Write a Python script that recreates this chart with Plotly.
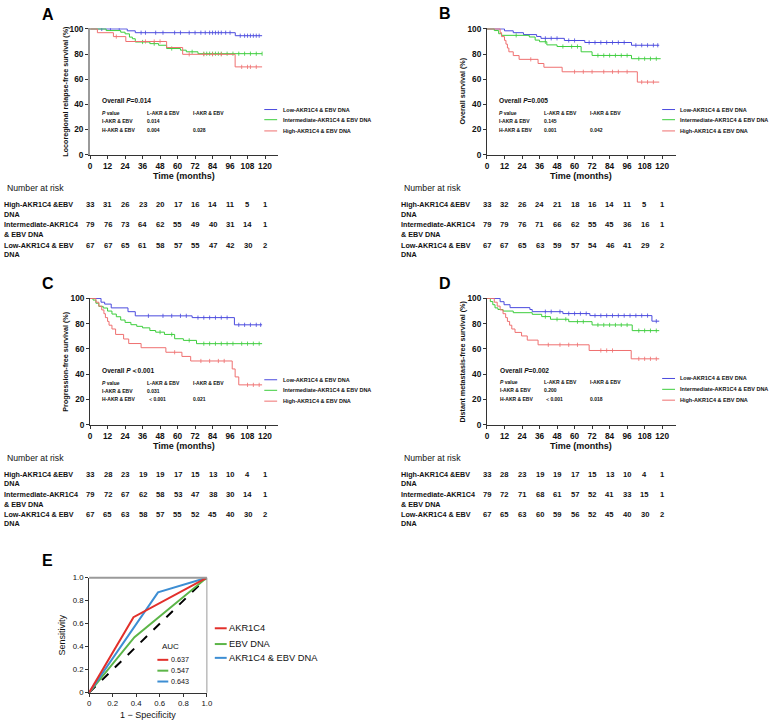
import plotly.graph_objects as go

# ---------------- data ----------------
TIME_TICKS = [0, 12, 24, 36, 48, 60, 72, 84, 96, 108, 120]
GROUP_LABELS = ["Low-AKR1C4 & EBV DNA", "Intermediate-AKR1C4 & EBV DNA", "High-AKR1C4 & EBV DNA"]
RISK_LABELS = [("High-AKR1C4 &EBV", "DNA"), ("Intermediate-AKR1C4", "& EBV DNA"), ("Low-AKR1C4 & EBV", "DNA")]

# Panel A - locoregional relapse-free survival
A_low_t = [0, 25.5, 31, 99.6, 118]
A_low_s = [100, 98.5, 97.0, 94.6, 94.6]
A_int_t = [0, 11, 21, 24, 27, 29, 31, 41, 47, 52.5, 62, 66, 74, 118]
A_int_s = [100, 98.7, 97.4, 96.1, 93.5, 92.2, 89.6, 88.3, 87.0, 84.4, 83.1, 81.8, 80.3, 80.3]
A_high_t = [0, 5, 16, 24.5, 52.5, 63.5, 99.5, 118]
A_high_s = [100, 97.0, 93.9, 90.0, 85.2, 79.8, 69.8, 69.8]
A_low_cens = [8, 14, 20, 35, 38, 45, 50, 58, 62, 68, 72, 76, 79, 82, 84, 86, 88, 90, 93, 96, 103, 106, 108, 110, 112, 114, 116]
A_int_cens = [36, 44, 56, 70, 78, 80, 82, 84, 86, 88, 90, 94, 98, 102, 106, 110, 114, 118]
A_high_cens = [18, 38, 44, 48, 68, 78, 84, 90, 104, 108, 110, 114]
A_risk_high = [33, 31, 26, 23, 20, 17, 16, 14, 11, 5, 1]
A_risk_int = [79, 76, 73, 64, 62, 55, 49, 40, 31, 14, 1]
A_risk_low = [67, 67, 65, 61, 58, 57, 55, 47, 42, 30, 2]
A_pvals = ["Overall <i>P</i>=0.014", "0.014", "0.004", "0.028"]

# Panel B - overall survival
B_low_t = [0, 12, 18, 25, 34, 37, 53, 67, 99, 118]
B_low_s = [100, 98.5, 97.0, 95.5, 94.0, 92.5, 90.8, 89.2, 87.0, 87.0]
B_int_t = [0, 5, 8, 10, 29, 33, 36, 41, 48, 64.5, 72, 99, 119]
B_int_s = [100, 98.7, 96.2, 94.9, 93.6, 91.1, 89.8, 87.3, 86.0, 81.8, 78.9, 76.3, 76.3]
B_high_t = [0, 9, 10, 12, 13, 14, 15, 18, 22, 35, 39, 51.5, 103, 118]
B_high_s = [100, 97.0, 93.9, 90.9, 87.9, 84.8, 81.8, 78.8, 75.8, 72.5, 69.5, 65.9, 57.7, 57.7]
B_low_cens = [40, 44, 48, 56, 60, 70, 74, 78, 82, 86, 90, 94, 102, 106, 110, 114, 117]
B_int_cens = [20, 40, 52, 58, 62, 76, 80, 84, 88, 92, 96, 104, 108, 112, 116]
B_high_cens = [30, 60, 66, 72, 80, 86, 90, 96, 106, 110, 114]
B_risk_high = [33, 32, 26, 24, 21, 18, 16, 14, 11, 5, 1]
B_risk_int = [79, 79, 76, 71, 66, 62, 55, 45, 36, 16, 1]
B_risk_low = [67, 67, 65, 63, 59, 57, 54, 46, 41, 29, 2]
B_pvals = ["Overall <i>P</i>=0.005", "0.145", "0.001", "0.042"]

# Panel C - progression-free survival
C_low_t = [0, 7.5, 10, 14.5, 26, 31, 70, 99, 118]
C_low_s = [100, 97.0, 95.5, 92.5, 89.5, 86.2, 84.8, 79.1, 79.1]
C_int_t = [0, 2, 4, 6, 9, 12, 15, 18, 21, 24, 28, 32, 36, 41, 45, 51, 58, 64, 73, 118]
C_int_s = [100, 98.7, 96.2, 93.7, 92.4, 90.0, 87.6, 85.5, 82.9, 81.0, 79.2, 77.9, 76.7, 74.6, 73.3, 71.5, 68.1, 66.8, 64.2, 64.2]
C_high_t = [0, 4, 6, 8, 9.5, 10.5, 12, 13, 15, 17.5, 23, 26.5, 35, 52, 63, 69, 97.5, 99.5, 102, 118]
C_high_s = [100, 97.0, 93.9, 90.9, 87.9, 84.8, 81.8, 78.8, 75.8, 71.5, 67.9, 64.3, 61.0, 57.4, 54.1, 50.5, 44.2, 37.9, 31.6, 31.6]
C_low_cens = [40, 50, 56, 62, 66, 74, 78, 82, 86, 90, 94, 102, 106, 110, 114, 117]
C_int_cens = [48, 56, 68, 78, 82, 86, 90, 94, 98, 104, 108, 112, 116]
C_high_cens = [58, 76, 82, 88, 92, 108, 112, 116]
C_risk_high = [33, 28, 23, 19, 19, 17, 15, 13, 10, 4, 1]
C_risk_int = [79, 72, 67, 62, 58, 53, 47, 38, 30, 14, 1]
C_risk_low = [67, 65, 63, 58, 57, 55, 52, 45, 40, 30, 2]
C_pvals = ["Overall <i>P</i>＜0.001", "0.031", " ＜0.001", "0.021"]

# Panel D - distant metastasis-free survival
D_low_t = [0, 9, 11.7, 15.8, 29.4, 31, 52, 70.5, 113, 118]
D_low_s = [100, 97.4, 95.0, 92.7, 91.2, 89.5, 88.0, 86.4, 82.0, 82.0]
D_int_t = [0, 2.3, 4, 5.5, 7.5, 11, 18, 31, 37.5, 43.5, 56, 72, 99.5, 118]
D_int_s = [100, 97.5, 95.0, 92.5, 91.2, 90.0, 88.7, 87.4, 85.6, 83.5, 81.6, 79.0, 74.5, 74.5]
D_high_t = [0, 5, 7, 9, 11, 12.8, 14, 15.5, 17, 19.2, 23.7, 27.6, 35, 70, 98.8, 118]
D_high_s = [100, 97.0, 93.9, 90.9, 87.9, 84.8, 81.8, 78.8, 75.8, 73.1, 70.3, 67.0, 63.3, 58.8, 52.2, 52.2]
D_low_cens = [40, 44, 50, 56, 60, 64, 68, 74, 78, 82, 86, 90, 94, 98, 102, 106, 110, 116]
D_int_cens = [40, 48, 54, 62, 66, 76, 80, 84, 88, 92, 96, 104, 108, 112, 116]
D_high_cens = [42, 50, 56, 62, 78, 82, 86, 104, 108, 112, 116]
D_risk_high = [33, 28, 23, 19, 19, 17, 15, 13, 10, 4, 1]
D_risk_int = [79, 72, 71, 68, 61, 57, 52, 41, 33, 15, 1]
D_risk_low = [67, 65, 63, 60, 59, 56, 52, 45, 40, 30, 2]
D_pvals = ["Overall <i>P</i>=0.002", "0.200", " ＜0.001", "0.018"]

# Panel E - ROC curves
ROC_NAMES = ["AKR1C4", "EBV DNA", "AKR1C4 & EBV DNA"]
ROC_AUC = ["0.637", "0.547", "0.643"]
E_akr_fpr = [0, 0.377, 1]
E_akr_tpr = [0, 0.656, 1]
E_ebv_fpr = [0, 0.385, 1]
E_ebv_tpr = [0, 0.482, 1]
E_comb_fpr = [0, 0.585, 1]
E_comb_tpr = [0, 0.872, 1]
E_ref = [0, 1]
ROC_TICKS = [0, 0.2, 0.4, 0.6, 0.8, 1.0]
ROC_TICKTEXT = ["0", "0.2", "0.4", "0.6", "0.8", "1.0"]

# ---------------- style / layout ----------------
W, H = 780, 724
FONT = "Liberation Sans, Arial, sans-serif"
KM_COLORS = ["#4a4ade", "#3ccd3c", "#ef7070"]   # low, intermediate, high
ROC_COLORS = ["#e2302b", "#5cb548", "#3d8ed3"]


def px(x):
    return x / W


def py(y):
    return 1 - y / H


def step_value(ts, ss, c):
    v = ss[0]
    for t, s in zip(ts, ss):
        if t <= c:
            v = s
        else:
            break
    return v


fig = go.Figure()
annotations = []
shapes = []


def text(x, y, s, size, bold=False, xanchor="left", color="#111", angle=0, xref="paper"):
    annotations.append(dict(
        x=x if xref != "paper" else px(x), y=py(y), xref=xref, yref="paper", text=s,
        showarrow=False, xanchor=xanchor, yanchor="middle", textangle=angle, borderpad=0,
        font=dict(family=FONT, size=size, color=color, weight="bold" if bold else "normal")))


def hline(x0, x1, y, color, width):
    shapes.append(dict(type="line", xref="paper", yref="paper", x0=px(x0), x1=px(x1),
                       y0=py(y), y1=py(y), line=dict(color=color, width=width)))


panels = [
    dict(letter="A", ax="", curves=[(A_low_t, A_low_s), (A_int_t, A_int_s), (A_high_t, A_high_s)],
         cens=[A_low_cens, A_int_cens, A_high_cens], risk=[A_risk_high, A_risk_int, A_risk_low],
         pv=A_pvals, ytitle="Locoregional relapse-free survival (%)",
         x0=89, x1=279, xmax=129.0, y0=151.7, y1=23.5, ymax=100.6, yline="#9a9a9a", ylw=2,
         letter_xy=(46, 9.5), ytitle_x=64, xtitle_y=173.5, nar_x=4, nar_y=186, lab_x=1,
         row_y=[202.7, 223, 244], pv_y=[97.3, 109.3, 117.7, 126.3], pv_x=[100, 145.7, 191.7],
         leg_x=(265, 278, 283), leg_y=[106, 116.3, 127.7]),
    dict(letter="B", ax="2", curves=[(B_low_t, B_low_s), (B_int_t, B_int_s), (B_high_t, B_high_s)],
         cens=[B_low_cens, B_int_cens, B_high_cens], risk=[B_risk_high, B_risk_int, B_risk_low],
         pv=B_pvals, ytitle="Overall survival (%)",
         x0=490, x1=681, xmax=129.5, y0=151.7, y1=23.5, ymax=100.6, yline="#333", ylw=1,
         letter_xy=(448, 9), ytitle_x=465, xtitle_y=173.5, nar_x=405, nar_y=186, lab_x=402,
         row_y=[202.7, 223, 244], pv_y=[97.3, 109.3, 117.3, 126.7], pv_x=[501, 546.7, 592.7],
         leg_x=(667, 680, 684), leg_y=[106, 116.3, 127.7]),
    dict(letter="C", ax="3", curves=[(C_low_t, C_low_s), (C_int_t, C_int_s), (C_high_t, C_high_s)],
         cens=[C_low_cens, C_int_cens, C_high_cens], risk=[C_risk_high, C_risk_int, C_risk_low],
         pv=C_pvals, ytitle="Progression-free survival (%)",
         x0=89, x1=279, xmax=129.0, y0=425.7, y1=297.0, ymax=100.4, yline="#333", ylw=1,
         letter_xy=(46, 282), ytitle_x=64, xtitle_y=447.3, nar_x=4, nar_y=459.3, lab_x=1,
         row_y=[476.3, 496.7, 516.7], pv_y=[370.7, 383.3, 391.7, 400], pv_x=[100, 145.7, 191.7],
         leg_x=(265, 278, 283), leg_y=[380, 390.7, 401.7]),
    dict(letter="D", ax="4", curves=[(D_low_t, D_low_s), (D_int_t, D_int_s), (D_high_t, D_high_s)],
         cens=[D_low_cens, D_int_cens, D_high_cens], risk=[D_risk_high, D_risk_int, D_risk_low],
         pv=D_pvals, ytitle="Distant metastasis-free survival (%)",
         x0=490, x1=681, xmax=129.5, y0=425.7, y1=297.0, ymax=100.4, yline="#333", ylw=1,
         letter_xy=(448, 282), ytitle_x=465, xtitle_y=447.3, nar_x=405, nar_y=459.3, lab_x=402,
         row_y=[476.3, 496.7, 516.7], pv_y=[370.7, 382.7, 390.7, 400], pv_x=[501.7, 546.7, 592.7],
         leg_x=(667, 680, 684), leg_y=[378.7, 389.7, 400.7]),
]

layout_axes = {}
for p in panels:
    xa = "x" + p["ax"]
    ya = "y" + p["ax"]
    for (ts, ss), cens, col in zip(p["curves"], p["cens"], KM_COLORS):
        fig.add_trace(go.Scatter(x=ts, y=ss, mode="lines", line=dict(shape="hv", color=col, width=1),
                                 xaxis=xa, yaxis=ya, showlegend=False, hoverinfo="skip"))
        fig.add_trace(go.Scatter(x=cens, y=[step_value(ts, ss, c) for c in cens], mode="markers",
                                 marker=dict(symbol="line-ns", size=3, line=dict(color=col, width=0.8)),
                                 xaxis=xa, yaxis=ya, showlegend=False, hoverinfo="skip"))
    layout_axes["xaxis" + p["ax"]] = dict(
        domain=[px(p["x0"]), px(p["x1"])], range=[0, p["xmax"]], anchor=ya,
        tickvals=TIME_TICKS, ticks="outside", ticklen=3, tickwidth=1, tickcolor="#333",
        showline=True, linecolor="#333", linewidth=1, showgrid=False, zeroline=False,
        tickfont=dict(family=FONT, size=8.3, color="#111", weight="bold"))
    layout_axes["yaxis" + p["ax"]] = dict(
        domain=[py(p["y0"]), py(p["y1"])], range=[0, p["ymax"]], anchor=xa,
        tickvals=[0, 20, 40, 60, 80, 100], ticks="outside", ticklen=3, tickwidth=1, tickcolor="#333",
        showline=True, linecolor=p["yline"], linewidth=p["ylw"], showgrid=False, zeroline=False,
        tickfont=dict(family=FONT, size=8.3, color="#111", weight="bold"))

    text(p["letter_xy"][0], p["letter_xy"][1], p["letter"], 16, bold=True, xanchor="center", color="#000")
    text(p["ytitle_x"], (p["y0"] + p["y1"]) / 2, p["ytitle"], 7.2, bold=True, xanchor="center", angle=-90)
    text((p["x0"] + p["x1"]) / 2, p["xtitle_y"], "Time (months)", 9, bold=True, xanchor="center")

    c1, c2, c3 = p["pv_x"]
    r0, r1, r2, r3 = p["pv_y"]
    text(c1, r0, p["pv"][0], 6.6, bold=True)
    text(c1, r1, "<i>P</i> value", 5, bold=True)
    text(c2, r1, "L-AKR & EBV", 5, bold=True)
    text(c3, r1, "I-AKR & EBV", 5, bold=True)
    text(c1, r2, "I-AKR & EBV", 5, bold=True)
    text(c2, r2, p["pv"][1], 5, bold=True)
    text(c1, r3, "H-AKR & EBV", 5, bold=True)
    text(c2, r3, p["pv"][2], 5, bold=True)
    text(c3, r3, p["pv"][3], 5, bold=True)

    lx0, lx1, ltx = p["leg_x"]
    for lab, col, ly in zip(GROUP_LABELS, KM_COLORS, p["leg_y"]):
        hline(lx0, lx1, ly, col, 1)
        text(ltx, ly, lab, 5.5, bold=True)

    text(p["nar_x"], p["nar_y"], "Number at risk", 8.7)
    for (l1, l2), row, ry in zip(RISK_LABELS, p["risk"], p["row_y"]):
        text(p["lab_x"], ry, l1, 7.2, bold=True)
        text(p["lab_x"], ry + 9.3, l2, 7.2, bold=True)
        for t, n in zip(TIME_TICKS, row):
            text(t, ry, str(n), 7.6, bold=True, xanchor="center", xref=xa)

# ---------------- panel E ----------------
fig.add_trace(go.Scatter(x=E_ref, y=E_ref, mode="lines", line=dict(color="#000", width=2, dash="dash"),
                         xaxis="x5", yaxis="y5", showlegend=False, hoverinfo="skip"))
for fx, ty, col in zip([E_ebv_fpr, E_comb_fpr, E_akr_fpr], [E_ebv_tpr, E_comb_tpr, E_akr_tpr],
                       [ROC_COLORS[1], ROC_COLORS[2], ROC_COLORS[0]]):
    fig.add_trace(go.Scatter(x=fx, y=ty, mode="lines", line=dict(color=col, width=2),
                             xaxis="x5", yaxis="y5", showlegend=False, hoverinfo="skip"))

E_x0, E_x1, E_y0, E_y1 = 88, 207, 697.3, 580.7
layout_axes["xaxis5"] = dict(domain=[px(E_x0), px(E_x1)], range=[0, 1], anchor="y5",
                             tickvals=ROC_TICKS, ticktext=ROC_TICKTEXT, ticks="outside", ticklen=3,
                             tickcolor="#333", showline=True, linecolor="#333", linewidth=1,
                             showgrid=False, zeroline=False,
                             tickfont=dict(family=FONT, size=7.8, color="#111"))
layout_axes["yaxis5"] = dict(domain=[py(E_y0), py(E_y1)], range=[0, 1], anchor="x5",
                             tickvals=ROC_TICKS, ticktext=ROC_TICKTEXT, ticks="outside", ticklen=3,
                             tickcolor="#333", showline=True, linecolor="#333", linewidth=1,
                             showgrid=False, zeroline=False,
                             tickfont=dict(family=FONT, size=7.8, color="#111"))
shapes.append(dict(type="line", xref="paper", yref="paper", x0=px(E_x0), x1=px(E_x1),
                   y0=py(E_y1), y1=py(E_y1), line=dict(color="#9a9a9a", width=2)))
shapes.append(dict(type="line", xref="paper", yref="paper", x0=px(E_x1), x1=px(E_x1),
                   y0=py(E_y0), y1=py(E_y1), line=dict(color="#9a9a9a", width=1)))

text(46, 563, "E", 16, bold=True, xanchor="center", color="#000")
text(61, (E_y0 + E_y1) / 2, "Sensitivity", 9, xanchor="center", angle=-90)
text((E_x0 + E_x1) / 2, 719.5, "1 − Specificity", 9, xanchor="center")
text(170.5, 650, "AUC", 8, xanchor="center")
for auc, col, ly in zip(ROC_AUC, ROC_COLORS, [664, 675, 686]):
    hline(157, 168, ly, col, 2)
    text(170, ly, auc, 7.2)
for name, col, ly in zip(ROC_NAMES, ROC_COLORS, [632, 648, 662]):
    hline(215, 227, ly, col, 2)
    text(228, ly, name, 9.3)

fig.update_layout(width=W, height=H, autosize=False, margin=dict(l=0, r=0, t=0, b=0),
                  paper_bgcolor="white", plot_bgcolor="white", showlegend=False,
                  annotations=annotations, shapes=shapes, **layout_axes)
fig.write_html("out.html", config={"displayModeBar": False},
               post_script="document.body.style.margin='0px';document.body.style.overflow='hidden';")
